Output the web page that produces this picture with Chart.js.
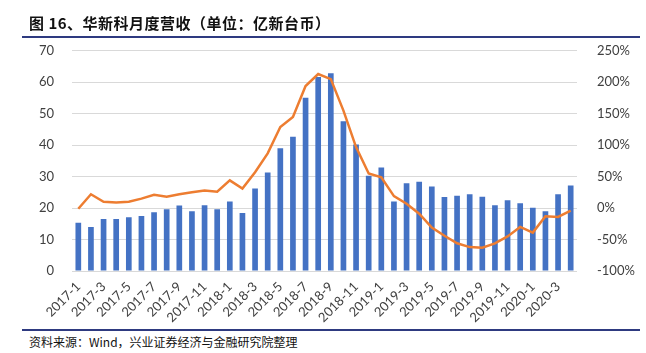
<!DOCTYPE html>
<html><head><meta charset="utf-8">
<script src="https://cdn.jsdelivr.net/npm/chart.js@4.4.0/dist/chart.umd.min.js"></script>
<style>
html,body{margin:0;padding:0;background:#fff;width:646px;height:353px;overflow:hidden;position:relative}
#title{position:absolute;left:29px;top:12px;font-family:"Noto Sans CJK SC";font-weight:bold;font-size:15px;color:#111;letter-spacing:0.5px}
#line1{position:absolute;left:22px;top:36px;width:618px;height:2px;background:#2e3a80}
#wrap{position:absolute;left:0;top:25px;width:646px;height:303px}
#line2{position:absolute;left:22px;top:329px;width:618px;height:2px;background:#2e3a80}
#src{position:absolute;left:29px;top:333px;font-family:"Noto Sans CJK SC";font-size:12px;color:#111}
</style></head><body>
<div id="wrap"><canvas id="c" width="646" height="303"></canvas></div>
<div id="title">图 16、华新科月度营收（单位：亿新台币）</div>
<div id="line1"></div>
<div id="line2"></div>
<div id="src">资料来源：Wind，兴业证券经济与金融研究院整理</div>
<script>
const categories = [
 "2017-1","2017-2","2017-3","2017-4","2017-5","2017-6","2017-7","2017-8","2017-9","2017-10","2017-11","2017-12",
 "2018-1","2018-2","2018-3","2018-4","2018-5","2018-6","2018-7","2018-8","2018-9","2018-10","2018-11","2018-12",
 "2019-1","2019-2","2019-3","2019-4","2019-5","2019-6","2019-7","2019-8","2019-9","2019-10","2019-11","2019-12",
 "2020-1","2020-2","2020-3","2020-4"];
const revenue = [15.3,14.0,16.5,16.5,17.1,17.5,18.7,19.6,20.8,19.0,20.9,19.6,
 22.1,18.4,26.2,31.3,39.0,42.7,55.1,61.7,62.9,47.6,40.2,30.3,
 32.9,22.1,27.9,28.4,26.9,23.5,23.9,24.4,23.6,20.9,22.5,21.5,
 20.1,19.0,24.4,27.2];
const yoy = [-1,22,10,9,10,15,21,18,22,25,28,26,
 44,31,57,87,129,145,194,213,205,155,97,55,
 49,19,7,-9,-31,-44,-56,-62,-63,-56,-45,-30,
 -39,-13,-14,-4];
const leftTicks = [0,10,20,30,40,50,60,70];
const rightTicks = [-100,-50,0,50,100,150,200,250];

const tickFont = {family:"Lato", size:13};
const tickColor = "#404040";
new Chart(document.getElementById('c'), {
  data:{
    labels:categories,
    datasets:[
      {type:'line', label:'yoy', data:yoy.map(v=>v/100), yAxisID:'y1',
       borderColor:'#ed7d31', borderWidth:2.5, pointRadius:0, tension:0, order:0},
      {type:'bar', label:'rev', data:revenue, yAxisID:'y',
       backgroundColor:'#4472c4', barPercentage:0.45, categoryPercentage:1.0, order:1}
    ]
  },
  options:{
    responsive:false, animation:false,
    layout:{padding:{top:5,left:0,right:0,bottom:0}},
    plugins:{legend:{display:false}, tooltip:{enabled:false}},
    scales:{
      x:{grid:{display:false}, border:{display:false},
         ticks:{autoSkip:false, maxRotation:45, minRotation:45, font:tickFont, color:tickColor, padding:0,
           callback:function(v,i){ return i%2===0 ? categories[i] : ''; }},
         afterFit:function(s){ s.height = 57; }},
      y:{position:'left', min:0, max:70, grid:{color:'#d9d9d9', lineWidth:1, drawTicks:false}, border:{display:false},
         afterBuildTicks:function(s){ s.ticks = leftTicks.map(v=>({value:v})); },
         ticks:{font:tickFont, color:tickColor, padding:18},
         afterFit:function(s){ s.width = 72; }},
      y1:{position:'right', min:-1, max:2.5, grid:{display:false}, border:{display:false},
         afterBuildTicks:function(s){ s.ticks = rightTicks.map(v=>({value:v/100})); },
         ticks:{font:tickFont, color:tickColor, padding:12, callback:function(v){ return Math.round(v*100)+'%'; }},
         afterFit:function(s){ s.width = 69; }}
    }
  }
});
</script>
</body></html>
